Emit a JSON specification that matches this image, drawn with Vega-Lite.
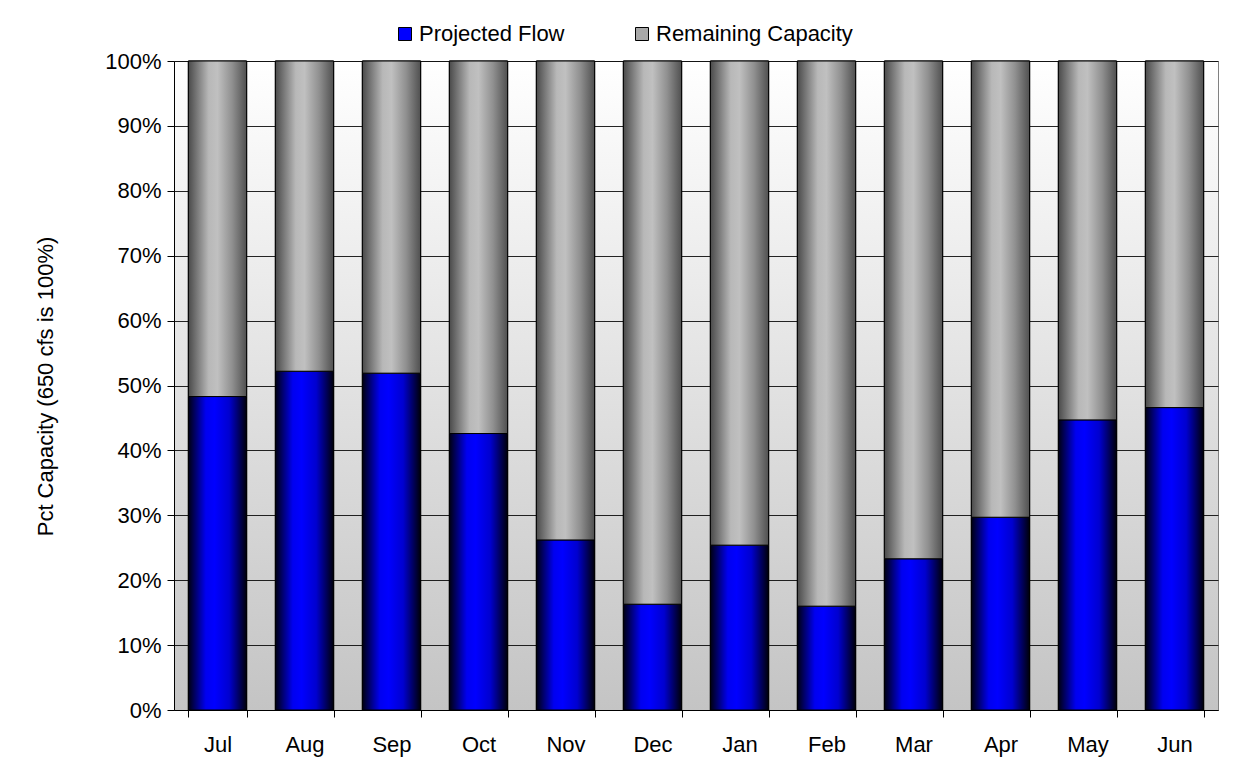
{
  "$schema": "https://vega.github.io/schema/vega-lite/v6.json",
  "width": 1044,
  "height": 649,
  "autosize": "none",
  "padding": {"left": 174, "top": 61, "right": 15, "bottom": 72},
  "background": "white",
  "config": {
    "font": "Liberation Sans",
    "view": {
      "stroke": "#808080",
      "strokeWidth": 1,
      "fill": {"gradient": "linear", "x1": 0, "y1": 0, "x2": 0, "y2": 1, "stops": [{"offset": 0, "color": "#ffffff"}, {"offset": 1, "color": "#c4c4c4"}]}
    }
  },
  "data": {
    "values": [
      {"month": "Jul", "series": "Projected Flow", "pct": 0.483},
      {"month": "Aug", "series": "Projected Flow", "pct": 0.522},
      {"month": "Sep", "series": "Projected Flow", "pct": 0.519},
      {"month": "Oct", "series": "Projected Flow", "pct": 0.426},
      {"month": "Nov", "series": "Projected Flow", "pct": 0.262},
      {"month": "Dec", "series": "Projected Flow", "pct": 0.163},
      {"month": "Jan", "series": "Projected Flow", "pct": 0.254},
      {"month": "Feb", "series": "Projected Flow", "pct": 0.160},
      {"month": "Mar", "series": "Projected Flow", "pct": 0.233},
      {"month": "Apr", "series": "Projected Flow", "pct": 0.297},
      {"month": "May", "series": "Projected Flow", "pct": 0.447},
      {"month": "Jun", "series": "Projected Flow", "pct": 0.466},
      {"month": "Jul", "series": "Remaining Capacity", "pct": 0.517},
      {"month": "Aug", "series": "Remaining Capacity", "pct": 0.478},
      {"month": "Sep", "series": "Remaining Capacity", "pct": 0.481},
      {"month": "Oct", "series": "Remaining Capacity", "pct": 0.574},
      {"month": "Nov", "series": "Remaining Capacity", "pct": 0.738},
      {"month": "Dec", "series": "Remaining Capacity", "pct": 0.837},
      {"month": "Jan", "series": "Remaining Capacity", "pct": 0.746},
      {"month": "Feb", "series": "Remaining Capacity", "pct": 0.840},
      {"month": "Mar", "series": "Remaining Capacity", "pct": 0.767},
      {"month": "Apr", "series": "Remaining Capacity", "pct": 0.703},
      {"month": "May", "series": "Remaining Capacity", "pct": 0.553},
      {"month": "Jun", "series": "Remaining Capacity", "pct": 0.534}
    ]
  },
  "transform": [
    {"stack": "pct", "groupby": ["month"], "sort": [{"field": "series", "order": "ascending"}], "as": ["y0", "y1"]}
  ],
  "encoding": {
    "x": {
      "field": "month",
      "type": "nominal",
      "sort": ["Jul", "Aug", "Sep", "Oct", "Nov", "Dec", "Jan", "Feb", "Mar", "Apr", "May", "Jun"],
      "scale": {"paddingInner": 0.33, "paddingOuter": 0.165},
      "axis": {
        "title": null,
        "labelAngle": 0,
        "labelFontSize": 22,
        "labelColor": "#000000",
        "labelPadding": 17,
        "tickBand": "extent",
        "tickSize": 7,
        "tickColor": "#000000",
        "domainColor": "#000000",
        "grid": false
      }
    },
    "y": {
      "field": "y1",
      "type": "quantitative",
      "scale": {"domain": [0, 1], "nice": false},
      "axis": {
        "title": "Pct Capacity (650 cfs is 100%)",
        "titleFontSize": 22,
        "titleFontWeight": "normal",
        "titleColor": "#000000",
        "titleX": -129,
        "titleY": 325,
        "titleBaseline": "middle",
        "titleAngle": -90,
        "format": ".0%",
        "values": [0, 0.1, 0.2, 0.3, 0.4, 0.5, 0.6, 0.7, 0.8, 0.9, 1],
        "labelFontSize": 22,
        "labelColor": "#000000",
        "labelPadding": 6,
        "tickSize": 7,
        "tickColor": "#000000",
        "domainColor": "#000000",
        "grid": true,
        "gridColor": "#000000",
        "gridWidth": 1,
        "gridOpacity": 0.85
      }
    },
    "y2": {"field": "y0"}
  },
  "layer": [
    {
      "mark": {"type": "bar", "stroke": "#000000", "strokeWidth": 1},
      "encoding": {
        "color": {
          "field": "series",
          "type": "nominal",
          "scale": {"domain": ["Projected Flow", "Remaining Capacity"], "range": ["#0000ff", "#a8a8a8"]},
          "legend": {
            "title": null,
            "orient": "none",
            "direction": "horizontal",
            "legendX": 220,
            "legendY": -38,
            "padding": 0,
            "symbolType": "square",
            "symbolSize": 169,
            "symbolStrokeColor": "#000000",
            "symbolStrokeWidth": 1,
            "labelFontSize": 22,
            "labelLimit": 400,
            "labelColor": "#000000",
            "labelOffset": 3,
            "columnPadding": 66
          }
        }
      }
    },
    {
      "transform": [{"filter": "datum.series == 'Projected Flow'"}],
      "mark": {
        "type": "bar",
        "stroke": "#000000",
        "strokeWidth": 1,
        "fill": {"gradient": "linear", "x1": 0, "y1": 0, "x2": 1, "y2": 0, "stops": [{"offset": 0, "color": "#000010"}, {"offset": 0.3, "color": "#0000f0"}, {"offset": 0.45, "color": "#0000ff"}, {"offset": 0.7, "color": "#0000d0"}, {"offset": 1, "color": "#000008"}]}
      }
    },
    {
      "transform": [{"filter": "datum.series == 'Remaining Capacity'"}],
      "mark": {
        "type": "bar",
        "stroke": "#000000",
        "strokeWidth": 1,
        "fill": {"gradient": "linear", "x1": 0, "y1": 0, "x2": 1, "y2": 0, "stops": [{"offset": 0, "color": "#4a4a4a"}, {"offset": 0.35, "color": "#b8b8b8"}, {"offset": 0.5, "color": "#c0c0c0"}, {"offset": 0.75, "color": "#909090"}, {"offset": 1, "color": "#505050"}]}
      }
    }
  ]
}
